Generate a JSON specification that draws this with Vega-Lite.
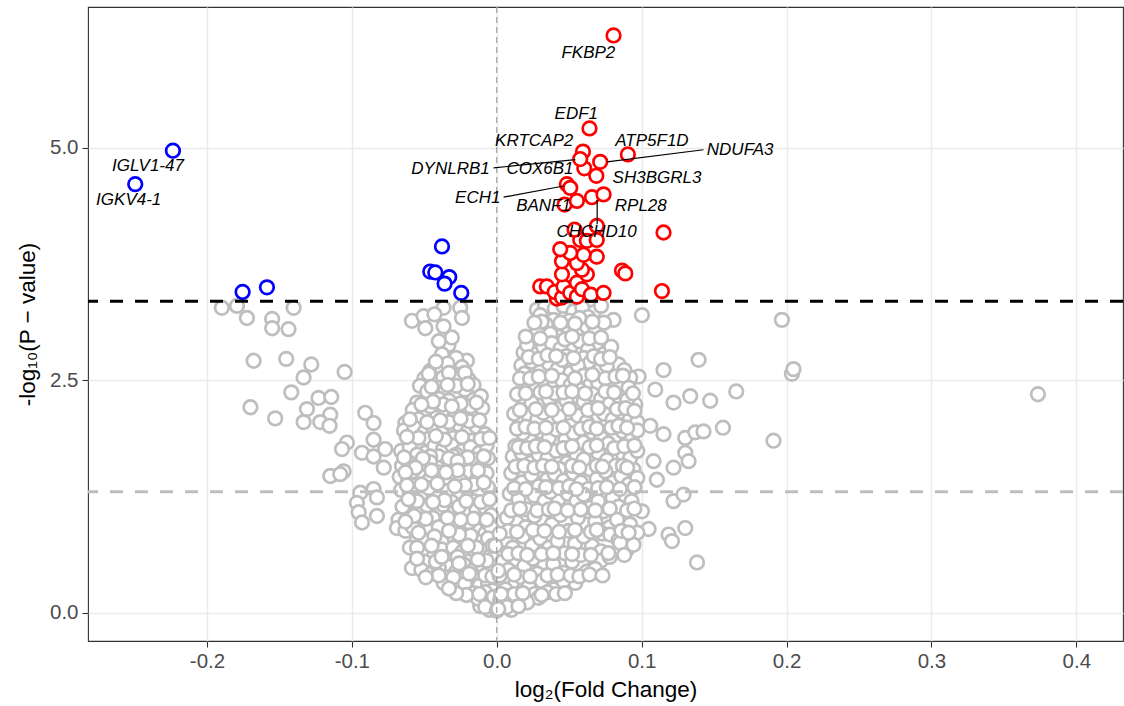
{
  "$schema": "https://vega.github.io/schema/vega-lite/v6.json",
  "width": 1035,
  "height": 634,
  "autosize": "none",
  "padding": {"left": 88, "top": 7, "right": 1, "bottom": 65},
  "background": "white",
  "config": {
    "view": {"stroke": "#333333", "strokeWidth": 1.1},
    "axis": {
      "domain": false,
      "grid": true,
      "gridColor": "#EBEBEB",
      "gridWidth": 1.5,
      "tickColor": "#333333",
      "tickSize": 6,
      "tickWidth": 1.1,
      "labelFont": "Liberation Sans",
      "labelFontSize": 20.5,
      "labelColor": "#4D4D4D",
      "titleFont": "Liberation Sans",
      "titleFontSize": 22.5,
      "titleFontWeight": "normal",
      "titleColor": "#000000"
    }
  },
  "datasets": {
    "pts": [
      {"fc": -0.1897, "logp": 3.28, "grp": "ns"},
      {"fc": -0.1793, "logp": 3.30, "grp": "ns"},
      {"fc": -0.1724, "logp": 3.17, "grp": "ns"},
      {"fc": -0.155, "logp": 3.16, "grp": "ns"},
      {"fc": -0.155, "logp": 3.06, "grp": "ns"},
      {"fc": -0.1437, "logp": 3.05, "grp": "ns"},
      {"fc": -0.1402, "logp": 3.28, "grp": "ns"},
      {"fc": -0.1678, "logp": 2.71, "grp": "ns"},
      {"fc": -0.1453, "logp": 2.73, "grp": "ns"},
      {"fc": -0.128, "logp": 2.67, "grp": "ns"},
      {"fc": -0.1333, "logp": 2.53, "grp": "ns"},
      {"fc": -0.105, "logp": 2.59, "grp": "ns"},
      {"fc": -0.1418, "logp": 2.37, "grp": "ns"},
      {"fc": -0.170, "logp": 2.21, "grp": "ns"},
      {"fc": -0.1529, "logp": 2.09, "grp": "ns"},
      {"fc": -0.123, "logp": 2.31, "grp": "ns"},
      {"fc": -0.1142, "logp": 2.32, "grp": "ns"},
      {"fc": -0.131, "logp": 2.19, "grp": "ns"},
      {"fc": -0.1149, "logp": 2.13, "grp": "ns"},
      {"fc": -0.1218, "logp": 2.05, "grp": "ns"},
      {"fc": -0.1333, "logp": 2.05, "grp": "ns"},
      {"fc": -0.1154, "logp": 2.01, "grp": "ns"},
      {"fc": -0.0908, "logp": 2.15, "grp": "ns"},
      {"fc": -0.085, "logp": 2.04, "grp": "ns"},
      {"fc": -0.1034, "logp": 1.83, "grp": "ns"},
      {"fc": -0.1068, "logp": 1.76, "grp": "ns"},
      {"fc": -0.093, "logp": 1.72, "grp": "ns"},
      {"fc": -0.085, "logp": 1.86, "grp": "ns"},
      {"fc": -0.077, "logp": 1.76, "grp": "ns"},
      {"fc": -0.085, "logp": 1.68, "grp": "ns"},
      {"fc": -0.078, "logp": 1.56, "grp": "ns"},
      {"fc": -0.1149, "logp": 1.47, "grp": "ns"},
      {"fc": -0.1057, "logp": 1.52, "grp": "ns"},
      {"fc": -0.108, "logp": 1.49, "grp": "ns"},
      {"fc": -0.0643, "logp": 1.56, "grp": "ns"},
      {"fc": -0.0942, "logp": 1.29, "grp": "ns"},
      {"fc": -0.085, "logp": 1.33, "grp": "ns"},
      {"fc": -0.0827, "logp": 1.24, "grp": "ns"},
      {"fc": -0.0965, "logp": 1.18, "grp": "ns"},
      {"fc": -0.0953, "logp": 1.08, "grp": "ns"},
      {"fc": -0.093, "logp": 0.97, "grp": "ns"},
      {"fc": -0.0827, "logp": 1.04, "grp": "ns"},
      {"fc": -0.0678, "logp": 1.00, "grp": "ns"},
      {"fc": -0.0689, "logp": 0.91, "grp": "ns"},
      {"fc": -0.0631, "logp": 2.04, "grp": "ns"},
      {"fc": -0.0597, "logp": 1.85, "grp": "ns"},
      {"fc": -0.0631, "logp": 1.31, "grp": "ns"},
      {"fc": -0.0597, "logp": 1.06, "grp": "ns"},
      {"fc": -0.0551, "logp": 2.26, "grp": "ns"},
      {"fc": -0.0585, "logp": 3.14, "grp": "ns"},
      {"fc": -0.0505, "logp": 3.19, "grp": "ns"},
      {"fc": -0.0493, "logp": 3.06, "grp": "ns"},
      {"fc": -0.0367, "logp": 3.28, "grp": "ns"},
      {"fc": -0.0252, "logp": 3.28, "grp": "ns"},
      {"fc": -0.024, "logp": 3.17, "grp": "ns"},
      {"fc": -0.0367, "logp": 3.08, "grp": "ns"},
      {"fc": -0.043, "logp": 3.21, "grp": "ns"},
      {"fc": -0.0333, "logp": 2.88, "grp": "ns"},
      {"fc": -0.0378, "logp": 2.78, "grp": "ns"},
      {"fc": -0.031, "logp": 2.96, "grp": "ns"},
      {"fc": -0.040, "logp": 2.92, "grp": "ns"},
      {"fc": -0.0206, "logp": 2.71, "grp": "ns"},
      {"fc": -0.0459, "logp": 2.60, "grp": "ns"},
      {"fc": -0.0378, "logp": 2.62, "grp": "ns"},
      {"fc": -0.028, "logp": 2.74, "grp": "ns"},
      {"fc": -0.034, "logp": 2.68, "grp": "ns"},
      {"fc": -0.042, "logp": 2.70, "grp": "ns"},
      {"fc": -0.024, "logp": 2.64, "grp": "ns"},
      {"fc": -0.0195, "logp": 2.51, "grp": "ns"},
      {"fc": -0.050, "logp": 2.52, "grp": "ns"},
      {"fc": -0.044, "logp": 2.48, "grp": "ns"},
      {"fc": -0.037, "logp": 2.53, "grp": "ns"},
      {"fc": -0.031, "logp": 2.50, "grp": "ns"},
      {"fc": -0.026, "logp": 2.56, "grp": "ns"},
      {"fc": -0.016, "logp": 2.45, "grp": "ns"},
      {"fc": -0.040, "logp": 2.42, "grp": "ns"},
      {"fc": -0.053, "logp": 2.44, "grp": "ns"},
      {"fc": -0.0355, "logp": 2.38, "grp": "ns"},
      {"fc": -0.0447, "logp": 2.33, "grp": "ns"},
      {"fc": -0.016, "logp": 2.29, "grp": "ns"},
      {"fc": -0.028, "logp": 2.36, "grp": "ns"},
      {"fc": -0.022, "logp": 2.40, "grp": "ns"},
      {"fc": -0.048, "logp": 2.38, "grp": "ns"},
      {"fc": -0.040, "logp": 2.30, "grp": "ns"},
      {"fc": -0.033, "logp": 2.28, "grp": "ns"},
      {"fc": -0.011, "logp": 2.33, "grp": "ns"},
      {"fc": -0.0229, "logp": 2.17, "grp": "ns"},
      {"fc": -0.0424, "logp": 2.10, "grp": "ns"},
      {"fc": -0.0137, "logp": 2.13, "grp": "ns"},
      {"fc": -0.058, "logp": 2.18, "grp": "ns"},
      {"fc": -0.050, "logp": 2.16, "grp": "ns"},
      {"fc": -0.036, "logp": 2.19, "grp": "ns"},
      {"fc": -0.029, "logp": 2.12, "grp": "ns"},
      {"fc": -0.018, "logp": 2.22, "grp": "ns"},
      {"fc": -0.046, "logp": 2.22, "grp": "ns"},
      {"fc": -0.010, "logp": 2.20, "grp": "ns"},
      {"fc": -0.054, "logp": 2.08, "grp": "ns"},
      {"fc": -0.0321, "logp": 1.97, "grp": "ns"},
      {"fc": -0.064, "logp": 1.96, "grp": "ns"},
      {"fc": -0.057, "logp": 1.99, "grp": "ns"},
      {"fc": -0.050, "logp": 1.94, "grp": "ns"},
      {"fc": -0.044, "logp": 2.00, "grp": "ns"},
      {"fc": -0.038, "logp": 1.93, "grp": "ns"},
      {"fc": -0.026, "logp": 2.02, "grp": "ns"},
      {"fc": -0.020, "logp": 1.95, "grp": "ns"},
      {"fc": -0.014, "logp": 2.00, "grp": "ns"},
      {"fc": -0.008, "logp": 1.92, "grp": "ns"},
      {"fc": -0.030, "logp": 1.88, "grp": "ns"},
      {"fc": -0.047, "logp": 1.87, "grp": "ns"},
      {"fc": -0.017, "logp": 1.85, "grp": "ns"},
      {"fc": -0.0493, "logp": 1.72, "grp": "ns"},
      {"fc": -0.066, "logp": 1.74, "grp": "ns"},
      {"fc": -0.060, "logp": 1.78, "grp": "ns"},
      {"fc": -0.055, "logp": 1.70, "grp": "ns"},
      {"fc": -0.043, "logp": 1.79, "grp": "ns"},
      {"fc": -0.037, "logp": 1.76, "grp": "ns"},
      {"fc": -0.031, "logp": 1.80, "grp": "ns"},
      {"fc": -0.024, "logp": 1.74, "grp": "ns"},
      {"fc": -0.018, "logp": 1.78, "grp": "ns"},
      {"fc": -0.012, "logp": 1.72, "grp": "ns"},
      {"fc": -0.007, "logp": 1.80, "grp": "ns"},
      {"fc": -0.028, "logp": 1.70, "grp": "ns"},
      {"fc": -0.040, "logp": 1.68, "grp": "ns"},
      {"fc": -0.0654, "logp": 1.58, "grp": "ns"},
      {"fc": -0.0459, "logp": 1.68, "grp": "ns"},
      {"fc": -0.0298, "logp": 1.68, "grp": "ns"},
      {"fc": -0.016, "logp": 1.65, "grp": "ns"},
      {"fc": -0.061, "logp": 1.62, "grp": "ns"},
      {"fc": -0.054, "logp": 1.60, "grp": "ns"},
      {"fc": -0.035, "logp": 1.59, "grp": "ns"},
      {"fc": -0.023, "logp": 1.61, "grp": "ns"},
      {"fc": -0.010, "logp": 1.58, "grp": "ns"},
      {"fc": -0.006, "logp": 1.66, "grp": "ns"},
      {"fc": -0.050, "logp": 1.55, "grp": "ns"},
      {"fc": -0.041, "logp": 1.56, "grp": "ns"},
      {"fc": -0.0528, "logp": 1.47, "grp": "ns"},
      {"fc": -0.0402, "logp": 1.51, "grp": "ns"},
      {"fc": -0.0309, "logp": 1.47, "grp": "ns"},
      {"fc": -0.0195, "logp": 1.52, "grp": "ns"},
      {"fc": -0.067, "logp": 1.46, "grp": "ns"},
      {"fc": -0.061, "logp": 1.43, "grp": "ns"},
      {"fc": -0.046, "logp": 1.44, "grp": "ns"},
      {"fc": -0.035, "logp": 1.40, "grp": "ns"},
      {"fc": -0.025, "logp": 1.42, "grp": "ns"},
      {"fc": -0.013, "logp": 1.45, "grp": "ns"},
      {"fc": -0.007, "logp": 1.50, "grp": "ns"},
      {"fc": -0.058, "logp": 1.52, "grp": "ns"},
      {"fc": -0.0528, "logp": 1.25, "grp": "ns"},
      {"fc": -0.0402, "logp": 1.25, "grp": "ns"},
      {"fc": -0.0264, "logp": 1.24, "grp": "ns"},
      {"fc": -0.066, "logp": 1.32, "grp": "ns"},
      {"fc": -0.060, "logp": 1.28, "grp": "ns"},
      {"fc": -0.047, "logp": 1.34, "grp": "ns"},
      {"fc": -0.034, "logp": 1.31, "grp": "ns"},
      {"fc": -0.020, "logp": 1.33, "grp": "ns"},
      {"fc": -0.012, "logp": 1.28, "grp": "ns"},
      {"fc": -0.006, "logp": 1.35, "grp": "ns"},
      {"fc": -0.057, "logp": 1.37, "grp": "ns"},
      {"fc": -0.016, "logp": 1.20, "grp": "ns"},
      {"fc": -0.031, "logp": 1.19, "grp": "ns"},
      {"fc": -0.0424, "logp": 1.08, "grp": "ns"},
      {"fc": -0.0321, "logp": 1.11, "grp": "ns"},
      {"fc": -0.0206, "logp": 1.06, "grp": "ns"},
      {"fc": -0.0528, "logp": 0.97, "grp": "ns"},
      {"fc": -0.065, "logp": 1.14, "grp": "ns"},
      {"fc": -0.048, "logp": 1.15, "grp": "ns"},
      {"fc": -0.037, "logp": 1.16, "grp": "ns"},
      {"fc": -0.026, "logp": 1.14, "grp": "ns"},
      {"fc": -0.014, "logp": 1.10, "grp": "ns"},
      {"fc": -0.008, "logp": 1.13, "grp": "ns"},
      {"fc": -0.004, "logp": 1.05, "grp": "ns"},
      {"fc": -0.044, "logp": 1.02, "grp": "ns"},
      {"fc": -0.010, "logp": 0.99, "grp": "ns"},
      {"fc": -0.0148, "logp": 0.90, "grp": "ns"},
      {"fc": -0.0551, "logp": 0.79, "grp": "ns"},
      {"fc": -0.0344, "logp": 0.82, "grp": "ns"},
      {"fc": -0.0229, "logp": 0.79, "grp": "ns"},
      {"fc": -0.063, "logp": 0.88, "grp": "ns"},
      {"fc": -0.058, "logp": 0.92, "grp": "ns"},
      {"fc": -0.047, "logp": 0.88, "grp": "ns"},
      {"fc": -0.040, "logp": 0.92, "grp": "ns"},
      {"fc": -0.029, "logp": 0.95, "grp": "ns"},
      {"fc": -0.019, "logp": 0.97, "grp": "ns"},
      {"fc": -0.008, "logp": 0.85, "grp": "ns"},
      {"fc": -0.004, "logp": 0.92, "grp": "ns"},
      {"fc": -0.050, "logp": 0.78, "grp": "ns"},
      {"fc": -0.038, "logp": 0.76, "grp": "ns"},
      {"fc": -0.012, "logp": 0.76, "grp": "ns"},
      {"fc": -0.0447, "logp": 0.63, "grp": "ns"},
      {"fc": -0.016, "logp": 0.61, "grp": "ns"},
      {"fc": -0.060, "logp": 0.70, "grp": "ns"},
      {"fc": -0.052, "logp": 0.66, "grp": "ns"},
      {"fc": -0.038, "logp": 0.68, "grp": "ns"},
      {"fc": -0.030, "logp": 0.70, "grp": "ns"},
      {"fc": -0.024, "logp": 0.65, "grp": "ns"},
      {"fc": -0.009, "logp": 0.68, "grp": "ns"},
      {"fc": -0.004, "logp": 0.62, "grp": "ns"},
      {"fc": -0.034, "logp": 0.57, "grp": "ns"},
      {"fc": -0.020, "logp": 0.55, "grp": "ns"},
      {"fc": -0.050, "logp": 0.55, "grp": "ns"},
      {"fc": -0.027, "logp": 0.60, "grp": "ns"},
      {"fc": -0.0585, "logp": 0.48, "grp": "ns"},
      {"fc": -0.0344, "logp": 0.50, "grp": "ns"},
      {"fc": -0.0229, "logp": 0.52, "grp": "ns"},
      {"fc": -0.052, "logp": 0.46, "grp": "ns"},
      {"fc": -0.045, "logp": 0.42, "grp": "ns"},
      {"fc": -0.040, "logp": 0.48, "grp": "ns"},
      {"fc": -0.028, "logp": 0.44, "grp": "ns"},
      {"fc": -0.016, "logp": 0.46, "grp": "ns"},
      {"fc": -0.010, "logp": 0.51, "grp": "ns"},
      {"fc": -0.005, "logp": 0.45, "grp": "ns"},
      {"fc": -0.034, "logp": 0.38, "grp": "ns"},
      {"fc": -0.022, "logp": 0.38, "grp": "ns"},
      {"fc": -0.013, "logp": 0.36, "grp": "ns"},
      {"fc": -0.0367, "logp": 0.32, "grp": "ns"},
      {"fc": -0.0183, "logp": 0.25, "grp": "ns"},
      {"fc": -0.027, "logp": 0.27, "grp": "ns"},
      {"fc": -0.012, "logp": 0.29, "grp": "ns"},
      {"fc": -0.006, "logp": 0.31, "grp": "ns"},
      {"fc": -0.022, "logp": 0.31, "grp": "ns"},
      {"fc": -0.003, "logp": 0.24, "grp": "ns"},
      {"fc": -0.016, "logp": 0.21, "grp": "ns"},
      {"fc": -0.0068, "logp": 0.18, "grp": "ns"},
      {"fc": -0.0114, "logp": 0.07, "grp": "ns"},
      {"fc": -0.009, "logp": 0.13, "grp": "ns"},
      {"fc": -0.004, "logp": 0.10, "grp": "ns"},
      {"fc": -0.002, "logp": 0.05, "grp": "ns"},
      {"fc": -0.013, "logp": 0.15, "grp": "ns"},
      {"fc": -0.033, "logp": 2.58, "grp": "ns"},
      {"fc": -0.022, "logp": 2.58, "grp": "ns"},
      {"fc": -0.047, "logp": 2.57, "grp": "ns"},
      {"fc": -0.028, "logp": 2.44, "grp": "ns"},
      {"fc": -0.034, "logp": 2.45, "grp": "ns"},
      {"fc": -0.045, "logp": 2.43, "grp": "ns"},
      {"fc": -0.020, "logp": 2.46, "grp": "ns"},
      {"fc": -0.025, "logp": 2.25, "grp": "ns"},
      {"fc": -0.037, "logp": 2.24, "grp": "ns"},
      {"fc": -0.044, "logp": 2.27, "grp": "ns"},
      {"fc": -0.052, "logp": 2.24, "grp": "ns"},
      {"fc": -0.014, "logp": 2.26, "grp": "ns"},
      {"fc": -0.031, "logp": 2.22, "grp": "ns"},
      {"fc": -0.019, "logp": 2.06, "grp": "ns"},
      {"fc": -0.033, "logp": 2.05, "grp": "ns"},
      {"fc": -0.039, "logp": 2.07, "grp": "ns"},
      {"fc": -0.048, "logp": 2.05, "grp": "ns"},
      {"fc": -0.060, "logp": 2.08, "grp": "ns"},
      {"fc": -0.012, "logp": 2.07, "grp": "ns"},
      {"fc": -0.025, "logp": 2.09, "grp": "ns"},
      {"fc": -0.024, "logp": 1.89, "grp": "ns"},
      {"fc": -0.036, "logp": 1.86, "grp": "ns"},
      {"fc": -0.042, "logp": 1.90, "grp": "ns"},
      {"fc": -0.054, "logp": 1.88, "grp": "ns"},
      {"fc": -0.062, "logp": 1.89, "grp": "ns"},
      {"fc": -0.011, "logp": 1.87, "grp": "ns"},
      {"fc": -0.005, "logp": 1.88, "grp": "ns"},
      {"fc": -0.020, "logp": 1.67, "grp": "ns"},
      {"fc": -0.033, "logp": 1.66, "grp": "ns"},
      {"fc": -0.046, "logp": 1.62, "grp": "ns"},
      {"fc": -0.051, "logp": 1.66, "grp": "ns"},
      {"fc": -0.064, "logp": 1.67, "grp": "ns"},
      {"fc": -0.009, "logp": 1.68, "grp": "ns"},
      {"fc": -0.027, "logp": 1.63, "grp": "ns"},
      {"fc": -0.027, "logp": 1.53, "grp": "ns"},
      {"fc": -0.035, "logp": 1.51, "grp": "ns"},
      {"fc": -0.045, "logp": 1.53, "grp": "ns"},
      {"fc": -0.056, "logp": 1.56, "grp": "ns"},
      {"fc": -0.013, "logp": 1.53, "grp": "ns"},
      {"fc": -0.063, "logp": 1.51, "grp": "ns"},
      {"fc": -0.016, "logp": 1.38, "grp": "ns"},
      {"fc": -0.022, "logp": 1.37, "grp": "ns"},
      {"fc": -0.041, "logp": 1.39, "grp": "ns"},
      {"fc": -0.052, "logp": 1.38, "grp": "ns"},
      {"fc": -0.062, "logp": 1.37, "grp": "ns"},
      {"fc": -0.029, "logp": 1.36, "grp": "ns"},
      {"fc": -0.009, "logp": 1.40, "grp": "ns"},
      {"fc": -0.021, "logp": 1.20, "grp": "ns"},
      {"fc": -0.036, "logp": 1.21, "grp": "ns"},
      {"fc": -0.044, "logp": 1.19, "grp": "ns"},
      {"fc": -0.055, "logp": 1.20, "grp": "ns"},
      {"fc": -0.061, "logp": 1.22, "grp": "ns"},
      {"fc": -0.011, "logp": 1.19, "grp": "ns"},
      {"fc": -0.005, "logp": 1.22, "grp": "ns"},
      {"fc": -0.016, "logp": 1.01, "grp": "ns"},
      {"fc": -0.025, "logp": 1.00, "grp": "ns"},
      {"fc": -0.034, "logp": 1.02, "grp": "ns"},
      {"fc": -0.049, "logp": 1.01, "grp": "ns"},
      {"fc": -0.057, "logp": 1.04, "grp": "ns"},
      {"fc": -0.063, "logp": 0.98, "grp": "ns"},
      {"fc": -0.007, "logp": 1.00, "grp": "ns"},
      {"fc": -0.018, "logp": 0.83, "grp": "ns"},
      {"fc": -0.026, "logp": 0.84, "grp": "ns"},
      {"fc": -0.043, "logp": 0.82, "grp": "ns"},
      {"fc": -0.054, "logp": 0.86, "grp": "ns"},
      {"fc": -0.033, "logp": 0.88, "grp": "ns"},
      {"fc": -0.006, "logp": 0.80, "grp": "ns"},
      {"fc": -0.014, "logp": 0.70, "grp": "ns"},
      {"fc": -0.020, "logp": 0.72, "grp": "ns"},
      {"fc": -0.045, "logp": 0.72, "grp": "ns"},
      {"fc": -0.055, "logp": 0.70, "grp": "ns"},
      {"fc": -0.003, "logp": 0.72, "grp": "ns"},
      {"fc": -0.007, "logp": 0.56, "grp": "ns"},
      {"fc": -0.013, "logp": 0.57, "grp": "ns"},
      {"fc": -0.026, "logp": 0.53, "grp": "ns"},
      {"fc": -0.042, "logp": 0.55, "grp": "ns"},
      {"fc": -0.055, "logp": 0.58, "grp": "ns"},
      {"fc": -0.038, "logp": 0.60, "grp": "ns"},
      {"fc": -0.008, "logp": 0.40, "grp": "ns"},
      {"fc": -0.019, "logp": 0.42, "grp": "ns"},
      {"fc": -0.030, "logp": 0.38, "grp": "ns"},
      {"fc": -0.040, "logp": 0.40, "grp": "ns"},
      {"fc": -0.049, "logp": 0.38, "grp": "ns"},
      {"fc": -0.003, "logp": 0.39, "grp": "ns"},
      {"fc": -0.008, "logp": 0.22, "grp": "ns"},
      {"fc": -0.021, "logp": 0.19, "grp": "ns"},
      {"fc": -0.028, "logp": 0.21, "grp": "ns"},
      {"fc": -0.033, "logp": 0.26, "grp": "ns"},
      {"fc": -0.002, "logp": 0.17, "grp": "ns"},
      {"fc": -0.012, "logp": 0.20, "grp": "ns"},
      {"fc": -0.005, "logp": 0.03, "grp": "ns"},
      {"fc": -0.008, "logp": 0.06, "grp": "ns"},
      {"fc": 0.1002, "logp": 3.20, "grp": "ns"},
      {"fc": 0.1968, "logp": 3.15, "grp": "ns"},
      {"fc": 0.1393, "logp": 2.72, "grp": "ns"},
      {"fc": 0.1151, "logp": 2.61, "grp": "ns"},
      {"fc": 0.0979, "logp": 2.54, "grp": "ns"},
      {"fc": 0.1094, "logp": 2.40, "grp": "ns"},
      {"fc": 0.122, "logp": 2.26, "grp": "ns"},
      {"fc": 0.1335, "logp": 2.33, "grp": "ns"},
      {"fc": 0.1473, "logp": 2.28, "grp": "ns"},
      {"fc": 0.1653, "logp": 2.38, "grp": "ns"},
      {"fc": 0.2037, "logp": 2.57, "grp": "ns"},
      {"fc": 0.2048, "logp": 2.62, "grp": "ns"},
      {"fc": 0.1059, "logp": 2.01, "grp": "ns"},
      {"fc": 0.1151, "logp": 1.92, "grp": "ns"},
      {"fc": 0.1301, "logp": 1.88, "grp": "ns"},
      {"fc": 0.137, "logp": 1.94, "grp": "ns"},
      {"fc": 0.1427, "logp": 1.95, "grp": "ns"},
      {"fc": 0.1561, "logp": 1.99, "grp": "ns"},
      {"fc": 0.191, "logp": 1.85, "grp": "ns"},
      {"fc": 0.1082, "logp": 1.63, "grp": "ns"},
      {"fc": 0.122, "logp": 1.56, "grp": "ns"},
      {"fc": 0.1301, "logp": 1.72, "grp": "ns"},
      {"fc": 0.1324, "logp": 1.63, "grp": "ns"},
      {"fc": 0.1105, "logp": 1.43, "grp": "ns"},
      {"fc": 0.122, "logp": 1.20, "grp": "ns"},
      {"fc": 0.1289, "logp": 1.27, "grp": "ns"},
      {"fc": 0.1002, "logp": 1.09, "grp": "ns"},
      {"fc": 0.1048, "logp": 0.90, "grp": "ns"},
      {"fc": 0.1186, "logp": 0.84, "grp": "ns"},
      {"fc": 0.1209, "logp": 0.77, "grp": "ns"},
      {"fc": 0.1301, "logp": 0.91, "grp": "ns"},
      {"fc": 0.1382, "logp": 0.54, "grp": "ns"},
      {"fc": 0.3735, "logp": 2.35, "grp": "ns"},
      {"fc": 0.0277, "logp": 3.26, "grp": "ns"},
      {"fc": 0.0333, "logp": 3.29, "grp": "ns"},
      {"fc": 0.0668, "logp": 3.23, "grp": "ns"},
      {"fc": 0.0806, "logp": 3.15, "grp": "ns"},
      {"fc": 0.040, "logp": 3.27, "grp": "ns"},
      {"fc": 0.046, "logp": 3.30, "grp": "ns"},
      {"fc": 0.053, "logp": 3.24, "grp": "ns"},
      {"fc": 0.059, "logp": 3.28, "grp": "ns"},
      {"fc": 0.072, "logp": 3.30, "grp": "ns"},
      {"fc": 0.030, "logp": 3.20, "grp": "ns"},
      {"fc": 0.063, "logp": 3.18, "grp": "ns"},
      {"fc": 0.0392, "logp": 3.15, "grp": "ns"},
      {"fc": 0.0473, "logp": 3.08, "grp": "ns"},
      {"fc": 0.0243, "logp": 2.94, "grp": "ns"},
      {"fc": 0.0427, "logp": 2.97, "grp": "ns"},
      {"fc": 0.0553, "logp": 3.03, "grp": "ns"},
      {"fc": 0.034, "logp": 3.10, "grp": "ns"},
      {"fc": 0.028, "logp": 3.05, "grp": "ns"},
      {"fc": 0.050, "logp": 3.14, "grp": "ns"},
      {"fc": 0.062, "logp": 3.08, "grp": "ns"},
      {"fc": 0.068, "logp": 3.05, "grp": "ns"},
      {"fc": 0.057, "logp": 3.17, "grp": "ns"},
      {"fc": 0.074, "logp": 3.12, "grp": "ns"},
      {"fc": 0.037, "logp": 3.00, "grp": "ns"},
      {"fc": 0.0692, "logp": 2.90, "grp": "ns"},
      {"fc": 0.0185, "logp": 2.80, "grp": "ns"},
      {"fc": 0.0266, "logp": 2.78, "grp": "ns"},
      {"fc": 0.0507, "logp": 2.85, "grp": "ns"},
      {"fc": 0.0737, "logp": 2.78, "grp": "ns"},
      {"fc": 0.021, "logp": 2.88, "grp": "ns"},
      {"fc": 0.032, "logp": 2.86, "grp": "ns"},
      {"fc": 0.038, "logp": 2.90, "grp": "ns"},
      {"fc": 0.044, "logp": 2.84, "grp": "ns"},
      {"fc": 0.057, "logp": 2.92, "grp": "ns"},
      {"fc": 0.063, "logp": 2.83, "grp": "ns"},
      {"fc": 0.079, "logp": 2.86, "grp": "ns"},
      {"fc": 0.048, "logp": 2.76, "grp": "ns"},
      {"fc": 0.060, "logp": 2.74, "grp": "ns"},
      {"fc": 0.0841, "logp": 2.67, "grp": "ns"},
      {"fc": 0.030, "logp": 2.63, "grp": "ns"},
      {"fc": 0.0507, "logp": 2.58, "grp": "ns"},
      {"fc": 0.0645, "logp": 2.69, "grp": "ns"},
      {"fc": 0.0921, "logp": 2.53, "grp": "ns"},
      {"fc": 0.017, "logp": 2.66, "grp": "ns"},
      {"fc": 0.024, "logp": 2.70, "grp": "ns"},
      {"fc": 0.036, "logp": 2.68, "grp": "ns"},
      {"fc": 0.042, "logp": 2.62, "grp": "ns"},
      {"fc": 0.056, "logp": 2.66, "grp": "ns"},
      {"fc": 0.070, "logp": 2.60, "grp": "ns"},
      {"fc": 0.076, "logp": 2.66, "grp": "ns"},
      {"fc": 0.088, "logp": 2.61, "grp": "ns"},
      {"fc": 0.045, "logp": 2.72, "grp": "ns"},
      {"fc": 0.019, "logp": 2.57, "grp": "ns"},
      {"fc": 0.060, "logp": 2.55, "grp": "ns"},
      {"fc": 0.0219, "logp": 2.44, "grp": "ns"},
      {"fc": 0.0645, "logp": 2.45, "grp": "ns"},
      {"fc": 0.0795, "logp": 2.40, "grp": "ns"},
      {"fc": 0.027, "logp": 2.40, "grp": "ns"},
      {"fc": 0.033, "logp": 2.48, "grp": "ns"},
      {"fc": 0.039, "logp": 2.43, "grp": "ns"},
      {"fc": 0.045, "logp": 2.50, "grp": "ns"},
      {"fc": 0.051, "logp": 2.45, "grp": "ns"},
      {"fc": 0.057, "logp": 2.40, "grp": "ns"},
      {"fc": 0.070, "logp": 2.47, "grp": "ns"},
      {"fc": 0.085, "logp": 2.46, "grp": "ns"},
      {"fc": 0.091, "logp": 2.42, "grp": "ns"},
      {"fc": 0.016, "logp": 2.52, "grp": "ns"},
      {"fc": 0.075, "logp": 2.52, "grp": "ns"},
      {"fc": 0.0185, "logp": 2.28, "grp": "ns"},
      {"fc": 0.030, "logp": 2.37, "grp": "ns"},
      {"fc": 0.0438, "logp": 2.20, "grp": "ns"},
      {"fc": 0.0542, "logp": 2.33, "grp": "ns"},
      {"fc": 0.0956, "logp": 2.24, "grp": "ns"},
      {"fc": 0.024, "logp": 2.26, "grp": "ns"},
      {"fc": 0.036, "logp": 2.30, "grp": "ns"},
      {"fc": 0.048, "logp": 2.28, "grp": "ns"},
      {"fc": 0.060, "logp": 2.27, "grp": "ns"},
      {"fc": 0.066, "logp": 2.35, "grp": "ns"},
      {"fc": 0.072, "logp": 2.30, "grp": "ns"},
      {"fc": 0.078, "logp": 2.25, "grp": "ns"},
      {"fc": 0.084, "logp": 2.33, "grp": "ns"},
      {"fc": 0.090, "logp": 2.29, "grp": "ns"},
      {"fc": 0.014, "logp": 2.35, "grp": "ns"},
      {"fc": 0.040, "logp": 2.36, "grp": "ns"},
      {"fc": 0.0162, "logp": 2.04, "grp": "ns"},
      {"fc": 0.0369, "logp": 2.04, "grp": "ns"},
      {"fc": 0.0507, "logp": 2.01, "grp": "ns"},
      {"fc": 0.068, "logp": 2.10, "grp": "ns"},
      {"fc": 0.022, "logp": 2.12, "grp": "ns"},
      {"fc": 0.028, "logp": 2.08, "grp": "ns"},
      {"fc": 0.032, "logp": 2.15, "grp": "ns"},
      {"fc": 0.043, "logp": 2.11, "grp": "ns"},
      {"fc": 0.056, "logp": 2.12, "grp": "ns"},
      {"fc": 0.062, "logp": 2.05, "grp": "ns"},
      {"fc": 0.074, "logp": 2.14, "grp": "ns"},
      {"fc": 0.080, "logp": 2.08, "grp": "ns"},
      {"fc": 0.086, "logp": 2.16, "grp": "ns"},
      {"fc": 0.092, "logp": 2.10, "grp": "ns"},
      {"fc": 0.097, "logp": 2.05, "grp": "ns"},
      {"fc": 0.012, "logp": 2.14, "grp": "ns"},
      {"fc": 0.0818, "logp": 1.90, "grp": "ns"},
      {"fc": 0.0231, "logp": 1.86, "grp": "ns"},
      {"fc": 0.0473, "logp": 1.86, "grp": "ns"},
      {"fc": 0.0599, "logp": 1.83, "grp": "ns"},
      {"fc": 0.0128, "logp": 1.79, "grp": "ns"},
      {"fc": 0.018, "logp": 1.93, "grp": "ns"},
      {"fc": 0.030, "logp": 1.95, "grp": "ns"},
      {"fc": 0.036, "logp": 1.88, "grp": "ns"},
      {"fc": 0.041, "logp": 1.97, "grp": "ns"},
      {"fc": 0.053, "logp": 1.93, "grp": "ns"},
      {"fc": 0.066, "logp": 1.94, "grp": "ns"},
      {"fc": 0.072, "logp": 1.88, "grp": "ns"},
      {"fc": 0.087, "logp": 1.95, "grp": "ns"},
      {"fc": 0.093, "logp": 1.86, "grp": "ns"},
      {"fc": 0.097, "logp": 1.96, "grp": "ns"},
      {"fc": 0.077, "logp": 1.82, "grp": "ns"},
      {"fc": 0.0231, "logp": 1.61, "grp": "ns"},
      {"fc": 0.0484, "logp": 1.61, "grp": "ns"},
      {"fc": 0.0645, "logp": 1.54, "grp": "ns"},
      {"fc": 0.0875, "logp": 1.70, "grp": "ns"},
      {"fc": 0.0944, "logp": 1.54, "grp": "ns"},
      {"fc": 0.011, "logp": 1.68, "grp": "ns"},
      {"fc": 0.017, "logp": 1.72, "grp": "ns"},
      {"fc": 0.029, "logp": 1.70, "grp": "ns"},
      {"fc": 0.035, "logp": 1.66, "grp": "ns"},
      {"fc": 0.041, "logp": 1.74, "grp": "ns"},
      {"fc": 0.055, "logp": 1.70, "grp": "ns"},
      {"fc": 0.060, "logp": 1.65, "grp": "ns"},
      {"fc": 0.070, "logp": 1.72, "grp": "ns"},
      {"fc": 0.076, "logp": 1.64, "grp": "ns"},
      {"fc": 0.082, "logp": 1.58, "grp": "ns"},
      {"fc": 0.092, "logp": 1.66, "grp": "ns"},
      {"fc": 0.097, "logp": 1.74, "grp": "ns"},
      {"fc": 0.043, "logp": 1.55, "grp": "ns"},
      {"fc": 0.0174, "logp": 1.40, "grp": "ns"},
      {"fc": 0.0346, "logp": 1.43, "grp": "ns"},
      {"fc": 0.010, "logp": 1.50, "grp": "ns"},
      {"fc": 0.024, "logp": 1.48, "grp": "ns"},
      {"fc": 0.029, "logp": 1.36, "grp": "ns"},
      {"fc": 0.040, "logp": 1.49, "grp": "ns"},
      {"fc": 0.046, "logp": 1.42, "grp": "ns"},
      {"fc": 0.053, "logp": 1.50, "grp": "ns"},
      {"fc": 0.058, "logp": 1.40, "grp": "ns"},
      {"fc": 0.069, "logp": 1.44, "grp": "ns"},
      {"fc": 0.075, "logp": 1.52, "grp": "ns"},
      {"fc": 0.080, "logp": 1.40, "grp": "ns"},
      {"fc": 0.086, "logp": 1.47, "grp": "ns"},
      {"fc": 0.091, "logp": 1.38, "grp": "ns"},
      {"fc": 0.097, "logp": 1.45, "grp": "ns"},
      {"fc": 0.063, "logp": 1.33, "grp": "ns"},
      {"fc": 0.0427, "logp": 1.22, "grp": "ns"},
      {"fc": 0.0208, "logp": 1.11, "grp": "ns"},
      {"fc": 0.0645, "logp": 1.13, "grp": "ns"},
      {"fc": 0.0875, "logp": 1.04, "grp": "ns"},
      {"fc": 0.0737, "logp": 1.09, "grp": "ns"},
      {"fc": 0.009, "logp": 1.28, "grp": "ns"},
      {"fc": 0.015, "logp": 1.22, "grp": "ns"},
      {"fc": 0.026, "logp": 1.26, "grp": "ns"},
      {"fc": 0.033, "logp": 1.20, "grp": "ns"},
      {"fc": 0.037, "logp": 1.30, "grp": "ns"},
      {"fc": 0.049, "logp": 1.28, "grp": "ns"},
      {"fc": 0.055, "logp": 1.20, "grp": "ns"},
      {"fc": 0.060, "logp": 1.27, "grp": "ns"},
      {"fc": 0.070, "logp": 1.20, "grp": "ns"},
      {"fc": 0.080, "logp": 1.24, "grp": "ns"},
      {"fc": 0.084, "logp": 1.14, "grp": "ns"},
      {"fc": 0.093, "logp": 1.20, "grp": "ns"},
      {"fc": 0.0139, "logp": 0.97, "grp": "ns"},
      {"fc": 0.0312, "logp": 0.99, "grp": "ns"},
      {"fc": 0.0496, "logp": 0.88, "grp": "ns"},
      {"fc": 0.0622, "logp": 0.95, "grp": "ns"},
      {"fc": 0.007, "logp": 1.02, "grp": "ns"},
      {"fc": 0.020, "logp": 0.92, "grp": "ns"},
      {"fc": 0.026, "logp": 1.04, "grp": "ns"},
      {"fc": 0.038, "logp": 0.95, "grp": "ns"},
      {"fc": 0.044, "logp": 1.05, "grp": "ns"},
      {"fc": 0.056, "logp": 1.02, "grp": "ns"},
      {"fc": 0.068, "logp": 0.98, "grp": "ns"},
      {"fc": 0.078, "logp": 0.92, "grp": "ns"},
      {"fc": 0.083, "logp": 1.00, "grp": "ns"},
      {"fc": 0.092, "logp": 0.95, "grp": "ns"},
      {"fc": 0.097, "logp": 0.86, "grp": "ns"},
      {"fc": 0.073, "logp": 0.85, "grp": "ns"},
      {"fc": 0.0898, "logp": 0.68, "grp": "ns"},
      {"fc": 0.0243, "logp": 0.72, "grp": "ns"},
      {"fc": 0.0657, "logp": 0.72, "grp": "ns"},
      {"fc": 0.0783, "logp": 0.84, "grp": "ns"},
      {"fc": 0.006, "logp": 0.78, "grp": "ns"},
      {"fc": 0.011, "logp": 0.70, "grp": "ns"},
      {"fc": 0.018, "logp": 0.82, "grp": "ns"},
      {"fc": 0.030, "logp": 0.80, "grp": "ns"},
      {"fc": 0.036, "logp": 0.70, "grp": "ns"},
      {"fc": 0.042, "logp": 0.77, "grp": "ns"},
      {"fc": 0.054, "logp": 0.74, "grp": "ns"},
      {"fc": 0.060, "logp": 0.82, "grp": "ns"},
      {"fc": 0.072, "logp": 0.66, "grp": "ns"},
      {"fc": 0.084, "logp": 0.78, "grp": "ns"},
      {"fc": 0.0852, "logp": 0.75, "grp": "ns"},
      {"fc": 0.0944, "logp": 0.73, "grp": "ns"},
      {"fc": 0.047, "logp": 0.64, "grp": "ns"},
      {"fc": 0.0128, "logp": 0.57, "grp": "ns"},
      {"fc": 0.0323, "logp": 0.54, "grp": "ns"},
      {"fc": 0.0461, "logp": 0.43, "grp": "ns"},
      {"fc": 0.0668, "logp": 0.48, "grp": "ns"},
      {"fc": 0.004, "logp": 0.55, "grp": "ns"},
      {"fc": 0.008, "logp": 0.46, "grp": "ns"},
      {"fc": 0.019, "logp": 0.50, "grp": "ns"},
      {"fc": 0.025, "logp": 0.58, "grp": "ns"},
      {"fc": 0.039, "logp": 0.52, "grp": "ns"},
      {"fc": 0.052, "logp": 0.55, "grp": "ns"},
      {"fc": 0.058, "logp": 0.62, "grp": "ns"},
      {"fc": 0.072, "logp": 0.56, "grp": "ns"},
      {"fc": 0.078, "logp": 0.60, "grp": "ns"},
      {"fc": 0.062, "logp": 0.44, "grp": "ns"},
      {"fc": 0.028, "logp": 0.42, "grp": "ns"},
      {"fc": 0.0542, "logp": 0.32, "grp": "ns"},
      {"fc": 0.0105, "logp": 0.32, "grp": "ns"},
      {"fc": 0.068, "logp": 0.47, "grp": "ns"},
      {"fc": 0.0392, "logp": 0.25, "grp": "ns"},
      {"fc": 0.004, "logp": 0.36, "grp": "ns"},
      {"fc": 0.017, "logp": 0.38, "grp": "ns"},
      {"fc": 0.022, "logp": 0.28, "grp": "ns"},
      {"fc": 0.031, "logp": 0.34, "grp": "ns"},
      {"fc": 0.046, "logp": 0.34, "grp": "ns"},
      {"fc": 0.035, "logp": 0.22, "grp": "ns"},
      {"fc": 0.006, "logp": 0.25, "grp": "ns"},
      {"fc": 0.026, "logp": 0.20, "grp": "ns"},
      {"fc": 0.0288, "logp": 0.16, "grp": "ns"},
      {"fc": 0.0024, "logp": 0.14, "grp": "ns"},
      {"fc": 0.008, "logp": 0.18, "grp": "ns"},
      {"fc": 0.013, "logp": 0.12, "grp": "ns"},
      {"fc": 0.018, "logp": 0.20, "grp": "ns"},
      {"fc": 0.004, "logp": 0.06, "grp": "ns"},
      {"fc": 0.010, "logp": 0.03, "grp": "ns"},
      {"fc": 0.0001, "logp": 0.02, "grp": "ns"},
      {"fc": 0.002, "logp": 0.09, "grp": "ns"},
      {"fc": 0.021, "logp": 0.11, "grp": "ns"},
      {"fc": 0.044, "logp": 3.12, "grp": "ns"},
      {"fc": 0.031, "logp": 3.13, "grp": "ns"},
      {"fc": 0.054, "logp": 3.11, "grp": "ns"},
      {"fc": 0.066, "logp": 3.13, "grp": "ns"},
      {"fc": 0.026, "logp": 3.12, "grp": "ns"},
      {"fc": 0.030, "logp": 2.95, "grp": "ns"},
      {"fc": 0.047, "logp": 2.94, "grp": "ns"},
      {"fc": 0.052, "logp": 2.97, "grp": "ns"},
      {"fc": 0.064, "logp": 2.95, "grp": "ns"},
      {"fc": 0.072, "logp": 2.96, "grp": "ns"},
      {"fc": 0.020, "logp": 2.97, "grp": "ns"},
      {"fc": 0.022, "logp": 2.75, "grp": "ns"},
      {"fc": 0.029, "logp": 2.73, "grp": "ns"},
      {"fc": 0.035, "logp": 2.77, "grp": "ns"},
      {"fc": 0.041, "logp": 2.76, "grp": "ns"},
      {"fc": 0.053, "logp": 2.74, "grp": "ns"},
      {"fc": 0.067, "logp": 2.76, "grp": "ns"},
      {"fc": 0.072, "logp": 2.73, "grp": "ns"},
      {"fc": 0.078, "logp": 2.75, "grp": "ns"},
      {"fc": 0.023, "logp": 2.52, "grp": "ns"},
      {"fc": 0.029, "logp": 2.54, "grp": "ns"},
      {"fc": 0.038, "logp": 2.55, "grp": "ns"},
      {"fc": 0.054, "logp": 2.52, "grp": "ns"},
      {"fc": 0.066, "logp": 2.56, "grp": "ns"},
      {"fc": 0.082, "logp": 2.54, "grp": "ns"},
      {"fc": 0.087, "logp": 2.55, "grp": "ns"},
      {"fc": 0.020, "logp": 2.36, "grp": "ns"},
      {"fc": 0.034, "logp": 2.38, "grp": "ns"},
      {"fc": 0.046, "logp": 2.37, "grp": "ns"},
      {"fc": 0.052, "logp": 2.38, "grp": "ns"},
      {"fc": 0.061, "logp": 2.36, "grp": "ns"},
      {"fc": 0.075, "logp": 2.38, "grp": "ns"},
      {"fc": 0.081, "logp": 2.37, "grp": "ns"},
      {"fc": 0.094, "logp": 2.36, "grp": "ns"},
      {"fc": 0.016, "logp": 2.18, "grp": "ns"},
      {"fc": 0.027, "logp": 2.19, "grp": "ns"},
      {"fc": 0.038, "logp": 2.18, "grp": "ns"},
      {"fc": 0.050, "logp": 2.19, "grp": "ns"},
      {"fc": 0.063, "logp": 2.18, "grp": "ns"},
      {"fc": 0.070, "logp": 2.20, "grp": "ns"},
      {"fc": 0.083, "logp": 2.19, "grp": "ns"},
      {"fc": 0.089, "logp": 2.20, "grp": "ns"},
      {"fc": 0.095, "logp": 2.17, "grp": "ns"},
      {"fc": 0.014, "logp": 1.98, "grp": "ns"},
      {"fc": 0.020, "logp": 2.00, "grp": "ns"},
      {"fc": 0.026, "logp": 1.98, "grp": "ns"},
      {"fc": 0.034, "logp": 1.99, "grp": "ns"},
      {"fc": 0.046, "logp": 1.99, "grp": "ns"},
      {"fc": 0.058, "logp": 1.98, "grp": "ns"},
      {"fc": 0.064, "logp": 2.00, "grp": "ns"},
      {"fc": 0.069, "logp": 1.98, "grp": "ns"},
      {"fc": 0.079, "logp": 1.99, "grp": "ns"},
      {"fc": 0.084, "logp": 2.01, "grp": "ns"},
      {"fc": 0.090, "logp": 1.99, "grp": "ns"},
      {"fc": 0.015, "logp": 1.78, "grp": "ns"},
      {"fc": 0.021, "logp": 1.77, "grp": "ns"},
      {"fc": 0.027, "logp": 1.79, "grp": "ns"},
      {"fc": 0.033, "logp": 1.78, "grp": "ns"},
      {"fc": 0.046, "logp": 1.77, "grp": "ns"},
      {"fc": 0.052, "logp": 1.79, "grp": "ns"},
      {"fc": 0.064, "logp": 1.78, "grp": "ns"},
      {"fc": 0.069, "logp": 1.80, "grp": "ns"},
      {"fc": 0.081, "logp": 1.77, "grp": "ns"},
      {"fc": 0.088, "logp": 1.79, "grp": "ns"},
      {"fc": 0.095, "logp": 1.80, "grp": "ns"},
      {"fc": 0.013, "logp": 1.57, "grp": "ns"},
      {"fc": 0.019, "logp": 1.58, "grp": "ns"},
      {"fc": 0.026, "logp": 1.56, "grp": "ns"},
      {"fc": 0.032, "logp": 1.58, "grp": "ns"},
      {"fc": 0.038, "logp": 1.57, "grp": "ns"},
      {"fc": 0.052, "logp": 1.58, "grp": "ns"},
      {"fc": 0.057, "logp": 1.56, "grp": "ns"},
      {"fc": 0.069, "logp": 1.58, "grp": "ns"},
      {"fc": 0.073, "logp": 1.57, "grp": "ns"},
      {"fc": 0.087, "logp": 1.58, "grp": "ns"},
      {"fc": 0.090, "logp": 1.56, "grp": "ns"},
      {"fc": 0.012, "logp": 1.34, "grp": "ns"},
      {"fc": 0.020, "logp": 1.33, "grp": "ns"},
      {"fc": 0.034, "logp": 1.35, "grp": "ns"},
      {"fc": 0.043, "logp": 1.34, "grp": "ns"},
      {"fc": 0.050, "logp": 1.36, "grp": "ns"},
      {"fc": 0.055, "logp": 1.33, "grp": "ns"},
      {"fc": 0.070, "logp": 1.34, "grp": "ns"},
      {"fc": 0.076, "logp": 1.35, "grp": "ns"},
      {"fc": 0.085, "logp": 1.33, "grp": "ns"},
      {"fc": 0.095, "logp": 1.35, "grp": "ns"},
      {"fc": 0.010, "logp": 1.10, "grp": "ns"},
      {"fc": 0.016, "logp": 1.12, "grp": "ns"},
      {"fc": 0.028, "logp": 1.10, "grp": "ns"},
      {"fc": 0.036, "logp": 1.11, "grp": "ns"},
      {"fc": 0.040, "logp": 1.12, "grp": "ns"},
      {"fc": 0.049, "logp": 1.10, "grp": "ns"},
      {"fc": 0.058, "logp": 1.11, "grp": "ns"},
      {"fc": 0.068, "logp": 1.10, "grp": "ns"},
      {"fc": 0.078, "logp": 1.12, "grp": "ns"},
      {"fc": 0.090, "logp": 1.10, "grp": "ns"},
      {"fc": 0.095, "logp": 1.12, "grp": "ns"},
      {"fc": 0.008, "logp": 0.88, "grp": "ns"},
      {"fc": 0.014, "logp": 0.87, "grp": "ns"},
      {"fc": 0.025, "logp": 0.89, "grp": "ns"},
      {"fc": 0.033, "logp": 0.88, "grp": "ns"},
      {"fc": 0.043, "logp": 0.87, "grp": "ns"},
      {"fc": 0.054, "logp": 0.89, "grp": "ns"},
      {"fc": 0.065, "logp": 0.87, "grp": "ns"},
      {"fc": 0.069, "logp": 0.89, "grp": "ns"},
      {"fc": 0.086, "logp": 0.88, "grp": "ns"},
      {"fc": 0.091, "logp": 0.86, "grp": "ns"},
      {"fc": 0.008, "logp": 0.63, "grp": "ns"},
      {"fc": 0.015, "logp": 0.64, "grp": "ns"},
      {"fc": 0.021, "logp": 0.62, "grp": "ns"},
      {"fc": 0.031, "logp": 0.63, "grp": "ns"},
      {"fc": 0.039, "logp": 0.64, "grp": "ns"},
      {"fc": 0.052, "logp": 0.63, "grp": "ns"},
      {"fc": 0.065, "logp": 0.62, "grp": "ns"},
      {"fc": 0.077, "logp": 0.64, "grp": "ns"},
      {"fc": 0.088, "logp": 0.62, "grp": "ns"},
      {"fc": 0.002, "logp": 0.40, "grp": "ns"},
      {"fc": 0.012, "logp": 0.41, "grp": "ns"},
      {"fc": 0.023, "logp": 0.39, "grp": "ns"},
      {"fc": 0.035, "logp": 0.40, "grp": "ns"},
      {"fc": 0.042, "logp": 0.41, "grp": "ns"},
      {"fc": 0.051, "logp": 0.40, "grp": "ns"},
      {"fc": 0.057, "logp": 0.39, "grp": "ns"},
      {"fc": 0.064, "logp": 0.41, "grp": "ns"},
      {"fc": 0.073, "logp": 0.40, "grp": "ns"},
      {"fc": 0.012, "logp": 0.20, "grp": "ns"},
      {"fc": 0.018, "logp": 0.21, "grp": "ns"},
      {"fc": 0.031, "logp": 0.19, "grp": "ns"},
      {"fc": 0.041, "logp": 0.20, "grp": "ns"},
      {"fc": 0.047, "logp": 0.21, "grp": "ns"},
      {"fc": 0.003, "logp": 0.20, "grp": "ns"},
      {"fc": 0.007, "logp": 0.06, "grp": "ns"},
      {"fc": 0.015, "logp": 0.07, "grp": "ns"},
      {"fc": 0.001, "logp": 0.04, "grp": "ns"},
      {"fc": 0.001, "logp": 0.45, "grp": "ns"},
      {"fc": -0.001, "logp": 0.72, "grp": "ns"},
      {"fc": 0.002, "logp": 0.85, "grp": "ns"},
      {"fc": -0.2235, "logp": 4.97, "grp": "down"},
      {"fc": -0.2495, "logp": 4.61, "grp": "down"},
      {"fc": -0.1754, "logp": 3.45, "grp": "down"},
      {"fc": -0.1586, "logp": 3.50, "grp": "down"},
      {"fc": -0.0378, "logp": 3.94, "grp": "down"},
      {"fc": -0.0459, "logp": 3.67, "grp": "down"},
      {"fc": -0.0424, "logp": 3.66, "grp": "down"},
      {"fc": -0.0328, "logp": 3.61, "grp": "down"},
      {"fc": -0.036, "logp": 3.54, "grp": "down"},
      {"fc": -0.0245, "logp": 3.44, "grp": "down"},
      {"fc": 0.030, "logp": 3.51, "grp": "up"},
      {"fc": 0.0346, "logp": 3.51, "grp": "up"},
      {"fc": 0.0415, "logp": 3.38, "grp": "up"},
      {"fc": 0.040, "logp": 3.45, "grp": "up"},
      {"fc": 0.045, "logp": 3.39, "grp": "up"},
      {"fc": 0.0461, "logp": 3.51, "grp": "up"},
      {"fc": 0.0507, "logp": 3.44, "grp": "up"},
      {"fc": 0.0553, "logp": 3.40, "grp": "up"},
      {"fc": 0.0553, "logp": 3.55, "grp": "up"},
      {"fc": 0.0588, "logp": 3.48, "grp": "up"},
      {"fc": 0.065, "logp": 3.42, "grp": "up"},
      {"fc": 0.0737, "logp": 3.44, "grp": "up"},
      {"fc": 0.114, "logp": 3.46, "grp": "up"},
      {"fc": 0.045, "logp": 3.64, "grp": "up"},
      {"fc": 0.0622, "logp": 3.64, "grp": "up"},
      {"fc": 0.0588, "logp": 3.69, "grp": "up"},
      {"fc": 0.0864, "logp": 3.68, "grp": "up"},
      {"fc": 0.0887, "logp": 3.65, "grp": "up"},
      {"fc": 0.0553, "logp": 3.76, "grp": "up"},
      {"fc": 0.045, "logp": 3.78, "grp": "up"},
      {"fc": 0.069, "logp": 3.83, "grp": "up"},
      {"fc": 0.0599, "logp": 3.85, "grp": "up"},
      {"fc": 0.0507, "logp": 3.87, "grp": "up"},
      {"fc": 0.0438, "logp": 3.91, "grp": "up"},
      {"fc": 0.0576, "logp": 4.01, "grp": "up"},
      {"fc": 0.0622, "logp": 4.00, "grp": "up"},
      {"fc": 0.069, "logp": 4.01, "grp": "up"},
      {"fc": 0.0537, "logp": 4.12, "grp": "up"},
      {"fc": 0.1151, "logp": 4.09, "grp": "up"},
      {"fc": 0.0691, "logp": 4.16, "grp": "up"},
      {"fc": 0.0468, "logp": 4.39, "grp": "up"},
      {"fc": 0.0553, "logp": 4.43, "grp": "up"},
      {"fc": 0.0657, "logp": 4.47, "grp": "up"},
      {"fc": 0.0737, "logp": 4.50, "grp": "up"},
      {"fc": 0.0484, "logp": 4.61, "grp": "up"},
      {"fc": 0.0507, "logp": 4.57, "grp": "up"},
      {"fc": 0.0687, "logp": 4.70, "grp": "up"},
      {"fc": 0.0604, "logp": 4.78, "grp": "up"},
      {"fc": 0.0714, "logp": 4.85, "grp": "up"},
      {"fc": 0.0595, "logp": 4.96, "grp": "up"},
      {"fc": 0.0576, "logp": 4.88, "grp": "up"},
      {"fc": 0.0905, "logp": 4.93, "grp": "up"},
      {"fc": 0.064, "logp": 5.21, "grp": "up"},
      {"fc": 0.0806, "logp": 6.21, "grp": "up"}
    ],
    "labels": [
      {"gene": "FKBP2", "lx": 0.0632, "ly": 6.02},
      {"gene": "EDF1", "lx": 0.0549, "ly": 5.37},
      {"gene": "KRTCAP2", "lx": 0.0258, "ly": 5.07},
      {"gene": "ATP5F1D", "lx": 0.1071, "ly": 5.07},
      {"gene": "NDUFA3", "lx": 0.168, "ly": 4.98},
      {"gene": "DYNLRB1", "lx": -0.0319, "ly": 4.77},
      {"gene": "COX6B1", "lx": 0.0298, "ly": 4.77},
      {"gene": "SH3BGRL3", "lx": 0.1106, "ly": 4.68},
      {"gene": "ECH1", "lx": -0.0131, "ly": 4.46},
      {"gene": "BANF1", "lx": 0.0323, "ly": 4.37},
      {"gene": "RPL28", "lx": 0.0994, "ly": 4.37},
      {"gene": "CHCHD10", "lx": 0.0689, "ly": 4.10},
      {"gene": "IGLV1-47", "lx": -0.2407, "ly": 4.80},
      {"gene": "IGKV4-1", "lx": -0.254, "ly": 4.44}
    ],
    "segs": [
      {"gene": "DYNLRB1", "sx": -0.0022, "sy": 4.785, "ex": 0.0542, "ey": 4.874},
      {"gene": "NDUFA3", "sx": 0.0761, "sy": 4.85, "ex": 0.1427, "ey": 4.98},
      {"gene": "ECH1", "sx": 0.0047, "sy": 4.47, "ex": 0.0461, "ey": 4.59},
      {"gene": "CHCHD10", "sx": 0.0693, "sy": 4.18, "ex": 0.0693, "ey": 4.44}
    ],
    "hlines": [
      {"yint": 3.35, "kind": "cut"},
      {"yint": 1.301, "kind": "p05"}
    ],
    "vlines": [
      {"xint": 0}
    ]
  },
  "layer": [
    {
      "data": {"name": "pts"},
      "mark": {"type": "circle", "fill": "white", "fillOpacity": 1, "opacity": 1, "strokeWidth": 2.7, "size": 185},
      "encoding": {
        "x": {
          "field": "fc", "type": "quantitative",
          "scale": {"domain": [-0.2821, 0.4322], "nice": false, "zero": false},
          "axis": {
            "title": "log₂(Fold Change)",
            "values": [-0.2, -0.1, 0, 0.1, 0.2, 0.3, 0.4],
            "labelExpr": "replace(format(datum.value, '.1f'), '−', '-')",
            "labelPadding": 4,
            "titlePadding": 7
          }
        },
        "y": {
          "field": "logp", "type": "quantitative",
          "scale": {"domain": [-0.305, 6.516], "nice": false, "zero": false},
          "axis": {
            "title": "-log₁₀(P − value)",
            "values": [0, 2.5, 5],
            "format": ".1f",
            "labelPadding": 4,
            "titlePadding": 10
          }
        },
        "stroke": {
          "field": "grp", "type": "nominal",
          "scale": {"domain": ["ns", "down", "up"], "range": ["#BEBEBE", "#0000FF", "#FF0000"]},
          "legend": null
        }
      }
    },
    {
      "data": {"name": "hlines"},
      "mark": {"type": "rule", "strokeWidth": 3, "strokeDash": [13, 12]},
      "encoding": {
        "y": {"field": "yint", "type": "quantitative"},
        "color": {
          "field": "kind", "type": "nominal",
          "scale": {"domain": ["cut", "p05"], "range": ["#000000", "#BEBEBE"]},
          "legend": null
        }
      }
    },
    {
      "data": {"name": "vlines"},
      "mark": {"type": "rule", "strokeWidth": 1.1, "strokeDash": [6, 4], "color": "#999999"},
      "encoding": {
        "x": {"field": "xint", "type": "quantitative"}
      }
    },
    {
      "data": {"name": "segs"},
      "mark": {"type": "rule", "strokeWidth": 1.2, "color": "#000000"},
      "encoding": {
        "x": {"field": "sx", "type": "quantitative"},
        "y": {"field": "sy", "type": "quantitative"},
        "x2": {"field": "ex"},
        "y2": {"field": "ey"}
      }
    },
    {
      "data": {"name": "labels"},
      "mark": {"type": "text", "font": "Liberation Sans", "fontStyle": "italic", "fontSize": 17, "color": "#000000", "align": "center", "baseline": "middle"},
      "encoding": {
        "x": {"field": "lx", "type": "quantitative"},
        "y": {"field": "ly", "type": "quantitative"},
        "text": {"field": "gene", "type": "nominal"}
      }
    }
  ]
}
